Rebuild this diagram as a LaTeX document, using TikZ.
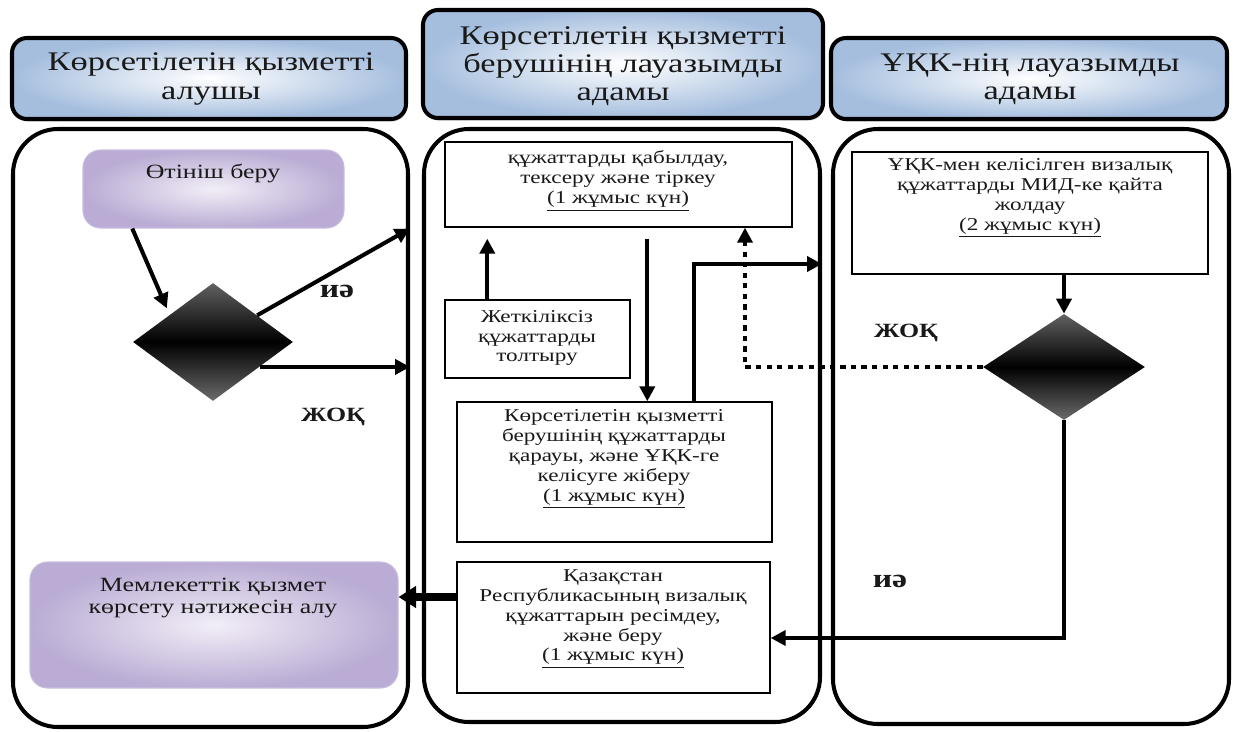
\documentclass[tikz,border=0pt]{standalone}
\usepackage{fontspec}
\setmainfont{Liberation Serif}[FakeStretch=1.28]
\usetikzlibrary{arrows.meta,shapes.geometric,fit,calc,shadows}
\definecolor{hdrblue}{RGB}{165,190,222}
\definecolor{lav}{RGB}{186,172,212}
\definecolor{lavlight}{RGB}{242,238,247}
\definecolor{ink}{RGB}{25,25,25}
\begin{document}
\begin{tikzpicture}[x=0.02cm,y=-0.02cm,
  lane/.style={draw=black, line width=2.3pt, rounded corners=0.9cm, inner sep=0pt},
  hdr/.style={draw=black, line width=2.3pt, rounded corners=0.3cm, inner sep=0pt,
    inner color=white, outer color=hdrblue,
    drop shadow={opacity=0.35, shadow xshift=0.6pt, shadow yshift=-1.5pt}},
  htxt/.style={align=center, text=ink, inner sep=0pt, font=\fontsize{15.3}{16}\selectfont},
  pbox/.style={draw=lav!80, line width=0.6pt, rounded corners=0.35cm, inner sep=0pt,
    inner color=lavlight, outer color=lav},
  box/.style={draw=black, line width=0.8pt, inner sep=0pt, fill=white},
  btxt/.style={align=center, text=ink, inner sep=0pt, font=\fontsize{10.3}{11.3}\selectfont},
  ptxt/.style={align=center, text=ink, inner sep=0pt, font=\fontsize{11.5}{13}\selectfont},
  lbl/.style={text=ink, inner sep=0pt, font=\fontsize{11.5}{13}\selectfont\bfseries},
  lblbig/.style={text=ink, inner sep=0pt, font=\fontsize{15}{16}\selectfont\bfseries},
  dia/.style={diamond, inner sep=0pt, draw=none, top color=black!62, bottom color=black!58, middle color=black},
  arr/.style={line width=2.3pt, -{Triangle[length=0.3cm,width=0.3cm]}},
  arrbig/.style={line width=4pt, -{Triangle[length=0.35cm,width=0.42cm]}},
  dotline/.style={dash pattern=on 3pt off 3pt}
]
\useasboundingbox (0,0) rectangle (1235,731);

% headers
\node[hdr, fit={(12,38) (406,119)}] (H1) {};
\node[htxt] (H1t) at (211,79) {Көрсетілетін қызметті\\алушы};
\node[hdr, fit={(423,10) (823,118)}] (H2) {};
\node[htxt] (H2t) at (623,66) {Көрсетілетін қызметті\\берушінің лауазымды\\адамы};
\node[hdr, fit={(831,38) (1227,119)}] (H3) {};
\node[htxt] (H3t) at (1030,79) {ҰҚК-нің лауазымды\\адамы};

% lanes
\node[lane, fit={(13,129) (408,727)}] (L1) {};
\node[lane, fit={(424,129) (820,722)}] (L2) {};
\node[lane, fit={(833,129) (1229,724)}] (L3) {};

% lane 1
\node[pbox, fit={(83,150) (344,228)}] (P1) {};
\node[ptxt] (P1t) at (213,173) {Өтініш беру};
\node[dia, minimum width=3.2cm, minimum height=2.36cm] (D1) at (213,342) {};
\node[pbox, fit={(30,562) (398,688)}] (M1) {};
\node[ptxt] (M1t) at (213,598) {Мемлекеттік қызмет\\көрсету нәтижесін алу};
\node[lblbig] (yes1) at (337,291) {иә};
\node[lbl] (no1) at (333,417) {ЖОҚ};

% lane 2
\node[box, fit={(445,142) (792,227)}] (B1) {};
\node[btxt] (B1t) at (618,181) {құжаттарды қабылдау,\\тексеру және тіркеу\\\underline{(1 жұмыс күн)}};
\node[box, fit={(445,300) (630,378)}] (B2) {};
\node[btxt] (B2t) at (537,338) {Жеткіліксіз\\құжаттарды\\толтыру};
\node[box, fit={(457,402) (772,542)}] (B3) {};
\node[btxt] (B3t) at (614,459) {Көрсетілетін қызметті\\берушінің құжаттарды\\қарауы, және ҰҚК-ге\\келісуге жіберу\\\underline{(1 жұмыс күн)}};
\node[box, fit={(457,562) (770,693)}] (B4) {};
\node[btxt] (B4t) at (613,619) {Қазақстан\\Республикасының визалық\\құжаттарын ресімдеу,\\және беру\\\underline{(1 жұмыс күн)}};

% lane 3
\node[box, fit={(852,152) (1208,274)}] (B5) {};
\node[btxt] (B5t) at (1030,198) {ҰҚК-мен келісілген визалық\\құжаттарды МИД-ке қайта\\жолдау\\\underline{(2 жұмыс күн)}};
\node[dia, minimum width=3.24cm, minimum height=2.12cm] (D2) at (1064,367) {};
\node[lbl] (no2) at (906,333) {ЖОҚ};
\node[lblbig] (yes2) at (890,581) {иә};

% helper coordinates
\coordinate (p1a) at ($(P1.south west)!0.19!(P1.south east)$);
\coordinate (d1a) at ($(D1.north)!0.55!(D1.east)$);
\coordinate (d1b) at ($(D1.east)!0.42!(D1.south)$);
\coordinate (c1) at ($(B1.south west)+(203,11)$);
\coordinate (c2) at ($(B3.north west)+(238,0)$);
\coordinate (r1) at (700,264);
\coordinate (dx) at (745,0);
\coordinate (r2) at (0,638);
\coordinate (r3) at (0,597);

% connectors
\draw[arr] (p1a) -- ($(D1.north west)+(-6,-4)$);
\draw[arr] (d1a) -- (P1.south -| L1.east);
\draw[arr] (d1b) -- (d1b -| L1.east);
\draw[arr] ($(B2.north west)+(43,0)$) -- ($(B1.south west)+(43,11)$);
\draw[arr] (c1) -- (c1 |- B3.north);
\draw[arr] (c2) -- (c2 |- r1) -- (r1 -| L2.east);
\draw[arr, dotline] (D2.west) -- (D2.west -| dx) -- (dx |- B1.south);
\draw[arr] (B5.south -| D2.north) -- (D2.north);
\draw[arr] (D2.south) -- (D2.south |- r2) -- (r2 -| B4.east);
\draw[arrbig] (r3 -| B4.west) -- (r3 -| M1.east);
\end{tikzpicture}
\end{document}
